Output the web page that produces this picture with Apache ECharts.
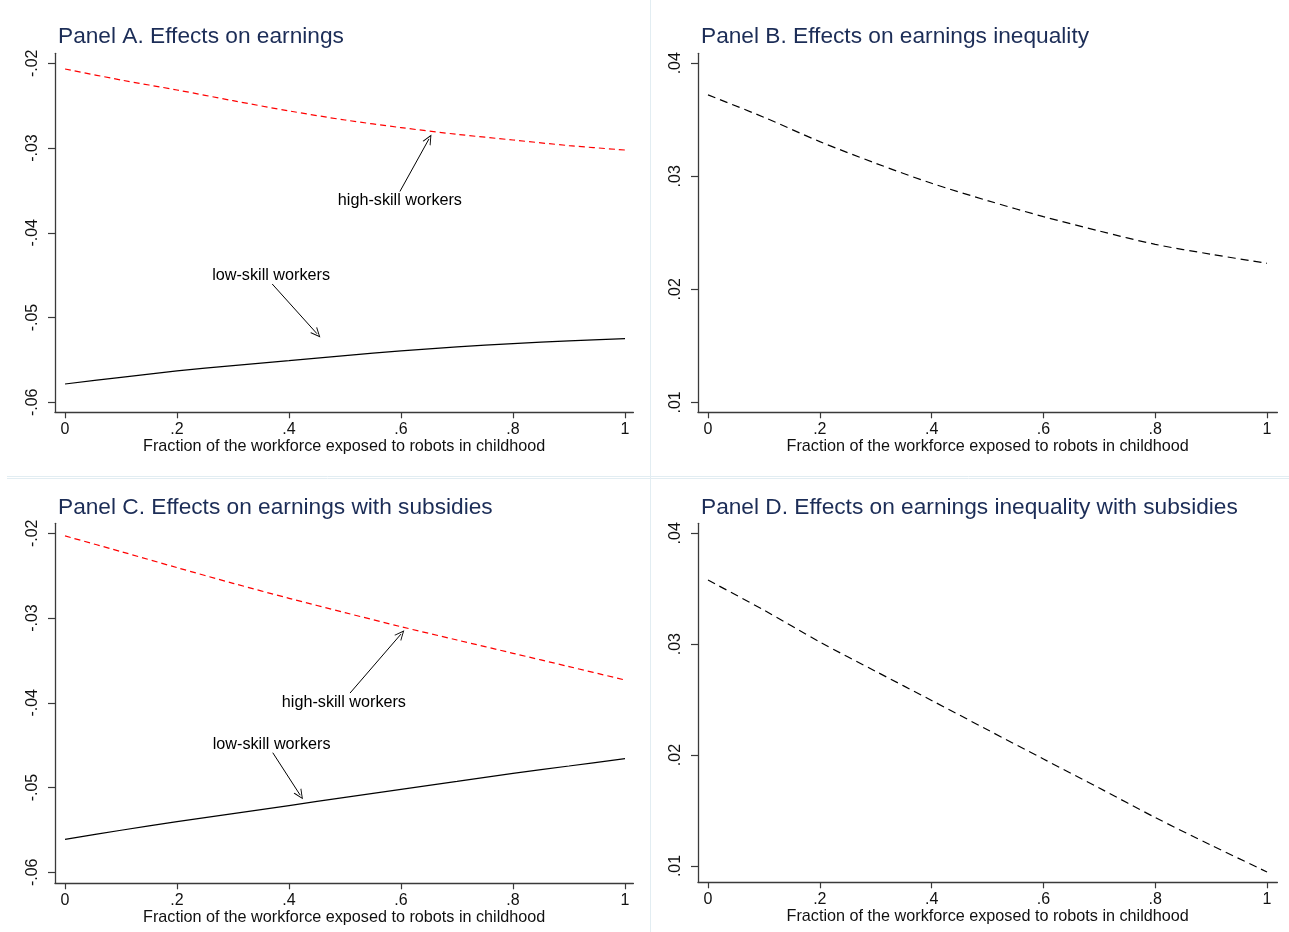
<!DOCTYPE html>
<html>
<head>
<meta charset="utf-8">
<script src="https://cdn.jsdelivr.net/npm/echarts@6/dist/echarts.min.js"></script>
<style>
html,body{margin:0;padding:0;background:#fff;}
#chart{width:1289px;height:932px;}
</style>
</head>
<body>
<div id="chart"></div>
<script>
// ---- data ----
const xValues = [0, 0.1, 0.2, 0.3, 0.4, 0.5, 0.6, 0.7, 0.8, 0.9, 1];
const xTicks = [0, 0.2, 0.4, 0.6, 0.8, 1];
const yTicksEarnings = [-0.06, -0.05, -0.04, -0.03, -0.02];
const yTicksInequality = [0.01, 0.02, 0.03, 0.04];

const panelA_high = [-0.02067, -0.02197, -0.02315, -0.02441, -0.02562, -0.02669, -0.02759, -0.02838, -0.02905, -0.02971, -0.03023];
const panelA_low  = [-0.05784, -0.05705, -0.05630, -0.05567, -0.05508, -0.05449, -0.05394, -0.05347, -0.05307, -0.05276, -0.05249];
const panelB_ineq = [0.03720, 0.03522, 0.03307, 0.03115, 0.02938, 0.02785, 0.02643, 0.02516, 0.02398, 0.02310, 0.02230];
const panelC_high = [-0.02031, -0.02216, -0.02405, -0.02590, -0.02767, -0.02936, -0.03102, -0.03259, -0.03416, -0.03573, -0.03731];
const panelC_low  = [-0.05611, -0.05504, -0.05402, -0.05308, -0.05213, -0.05115, -0.05021, -0.04927, -0.04832, -0.04746, -0.04659];
const panelD_ineq = [0.03578, 0.03307, 0.03020, 0.02755, 0.02493, 0.02228, 0.01965, 0.01703, 0.01437, 0.01188, 0.00946];

const titles = [
  'Panel A. Effects on earnings',
  'Panel B. Effects on earnings inequality',
  'Panel C. Effects on earnings with subsidies',
  'Panel D. Effects on earnings inequality with subsidies'
];
const xAxisTitle = 'Fraction of the workforce exposed to robots in childhood';
const labelHigh = 'high-skill workers';
const labelLow = 'low-skill workers';

// annotation anchors in data space: [x, y]
const annA_highText = [0.598, -0.0362];
const annA_highArrow = [[0.598, -0.03513], [0.65, -0.02892]];
const annA_lowText = [0.368, -0.04505];
const annA_lowArrow = [[0.370, -0.04604], [0.450, -0.05191]];
const annC_highText = [0.498, -0.03995];
const annC_highArrow = [[0.509, -0.03885], [0.600, -0.03189]];
const annC_lowText = [0.369, -0.04492];
const annC_lowArrow = [[0.371, -0.04589], [0.420, -0.05090]];

// ---- styles / layout ----
const FONT = '"Liberation Sans", Arial, Helvetica, sans-serif';
const TITLE_COLOR = '#1c2d57';
const AXIS_COLOR = '#3a3a3a';
const TEXT_COLOR = '#111';
const SEP_COLOR = '#e2edf2';
const ARROW = 'path://M5,0 L10,10 L8.9,10 L5,2.2 L1.1,10 L0,10 Z';

function fmt(v) {
  let s = String(+(+v).toFixed(4));
  return s.replace(/^(-?)0\./, '$1.');
}
function pairs(ys) { return xValues.map((x, i) => [x, ys[i]]); }

const grids = [
  {left: 55, top: 53.3, width: 578.4, height: 359},
  {left: 698, top: 53.3, width: 579.4, height: 359},
  {left: 55, top: 523.3, width: 578.4, height: 360},
  {left: 698, top: 523.3, width: 579.4, height: 359}
];
const xRanges = [[-0.0179, 1.015], [-0.0179, 1.0186], [-0.0179, 1.015], [-0.0179, 1.0186]];
const yRanges = [[-0.06118, -0.01882], [0.00912, 0.04088], [-0.0613, -0.01882], [0.00853, 0.0409]];
const yTickSets = [yTicksEarnings, yTicksInequality, yTicksEarnings, yTicksInequality];
const titlePos = [[58, 25], [701, 25], [58, 496], [701, 496]];

const xAxes = grids.map((g, i) => ({
  type: 'value', gridIndex: i, min: xRanges[i][0], max: xRanges[i][1],
  splitLine: {show: false},
  axisLine: {show: true, onZero: false, lineStyle: {color: AXIS_COLOR, width: 1.3}},
  axisTick: {show: true, length: 6, customValues: xTicks, lineStyle: {color: AXIS_COLOR, width: 1.2}},
  axisLabel: {customValues: xTicks, formatter: fmt, margin: 9, fontSize: 16, color: TEXT_COLOR, fontFamily: FONT},
  name: xAxisTitle, nameLocation: 'middle', nameGap: 26,
  nameTextStyle: {fontSize: 16.2, color: TEXT_COLOR, fontFamily: FONT}
}));
const yAxes = grids.map((g, i) => ({
  type: 'value', gridIndex: i, min: yRanges[i][0], max: yRanges[i][1],
  splitLine: {show: false},
  axisLine: {show: true, onZero: false, lineStyle: {color: AXIS_COLOR, width: 1.3}},
  axisTick: {show: true, length: 7, customValues: yTickSets[i], lineStyle: {color: AXIS_COLOR, width: 1.2}},
  axisLabel: {customValues: yTickSets[i], formatter: fmt, rotate: 90, margin: 14, fontSize: 16, color: TEXT_COLOR, fontFamily: FONT}
}));

function arrowLine(seg) {
  return {
    silent: true, animation: false,
    symbol: ['none', ARROW], symbolSize: [9, 10],
    label: {show: false},
    lineStyle: {color: '#000', width: 1, type: 'solid'},
    emphasis: {disabled: true},
    data: [[{coord: seg[0]}, {coord: seg[1]}]]
  };
}
function textPoint(pos, text) {
  return {
    silent: true, animation: false,
    symbol: 'rect', symbolSize: 1,
    itemStyle: {color: 'rgba(0,0,0,0)'},
    label: {show: true, position: 'inside', formatter: text, color: '#000', fontSize: 16.2, fontFamily: FONT},
    data: [{coord: pos, value: 0}]
  };
}
function lineSeries(i, ys, color, dashed, extra) {
  return Object.assign({
    type: 'line', xAxisIndex: i, yAxisIndex: i, data: pairs(ys),
    showSymbol: false, symbol: 'none', smooth: 0.3, animation: false, silent: true,
    lineStyle: {color: color, width: 1.2, type: dashed ? dashed : 'solid'},
    emphasis: {disabled: true}
  }, extra || {});
}

const series = [
  lineSeries(0, panelA_high, '#ff0000', [6, 4], {markLine: arrowLine(annA_highArrow), markPoint: textPoint(annA_highText, labelHigh)}),
  lineSeries(0, panelA_low, '#000', null, {markLine: arrowLine(annA_lowArrow), markPoint: textPoint(annA_lowText, labelLow)}),
  lineSeries(1, panelB_ineq, '#000', [8, 5]),
  lineSeries(2, panelC_high, '#ff0000', [6, 4], {markLine: arrowLine(annC_highArrow), markPoint: textPoint(annC_highText, labelHigh)}),
  lineSeries(2, panelC_low, '#000', null, {markLine: arrowLine(annC_lowArrow), markPoint: textPoint(annC_lowText, labelLow)}),
  lineSeries(3, panelD_ineq, '#000', [8, 5])
];

const option = {
  backgroundColor: '#fff',
  animation: false,
  title: titles.map((t, i) => ({
    text: t, left: titlePos[i][0], top: titlePos[i][1], padding: 0,
    textStyle: {fontSize: 22.7, fontWeight: 'normal', color: TITLE_COLOR, fontFamily: FONT}
  })),
  grid: grids,
  xAxis: xAxes,
  yAxis: yAxes,
  series: series,
  graphic: [
    {type: 'line', silent: true, shape: {x1: 650.5, y1: 0, x2: 650.5, y2: 932}, style: {stroke: SEP_COLOR, lineWidth: 1}},
    {type: 'line', silent: true, shape: {x1: 7, y1: 476.5, x2: 1289, y2: 476.5}, style: {stroke: SEP_COLOR, lineWidth: 1}},
    {type: 'line', silent: true, shape: {x1: 7, y1: 478.5, x2: 1289, y2: 478.5}, style: {stroke: SEP_COLOR, lineWidth: 1}}
  ]
};

const chart = echarts.init(document.getElementById('chart'), null, {renderer: 'canvas'});
chart.setOption(option);
</script>
</body>
</html>
